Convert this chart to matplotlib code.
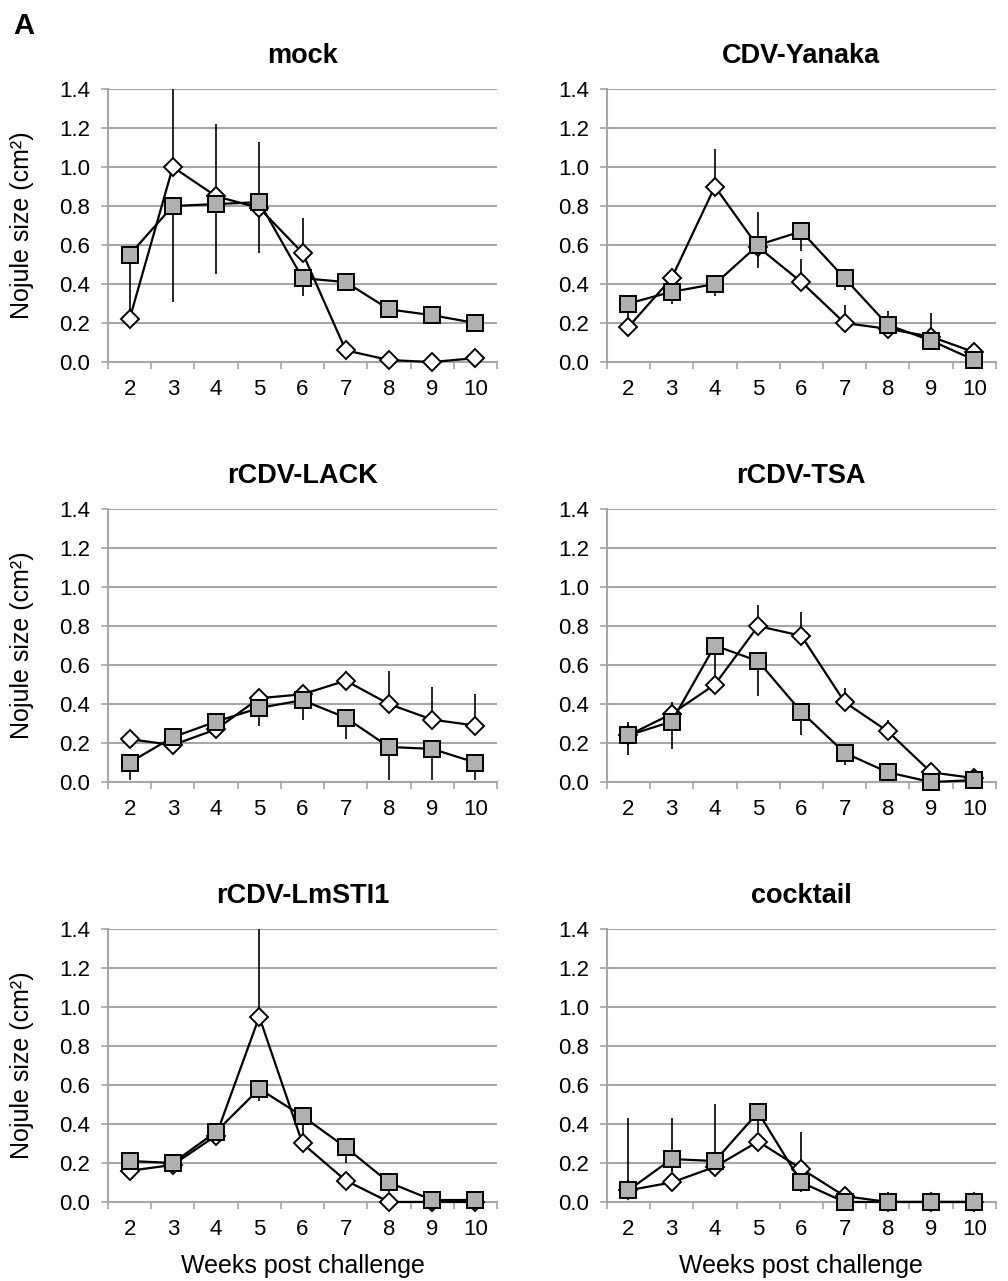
import matplotlib
matplotlib.use('Agg')
import matplotlib.pyplot as plt
import numpy as np

plt.rcParams['font.family'] = ['Liberation Sans', 'DejaVu Sans']

weeks = ['2', '3', '4', '5', '6', '7', '8', '9', '10']
titles = ['mock', 'CDV-Yanaka', 'rCDV-LACK', 'rCDV-TSA', 'rCDV-LmSTI1', 'cocktail']

# open diamonds (error bars go up)
dia_mock = [0.22, 1.00, 0.85, 0.79, 0.56, 0.06, 0.01, 0.00, 0.02]
dia_mock_err = [0.37, 0.50, 0.37, 0.34, 0.18, 0, 0, 0, 0]
dia_yan = [0.18, 0.43, 0.90, 0.59, 0.41, 0.20, 0.17, 0.13, 0.05]
dia_yan_err = [0, 0.05, 0.19, 0.18, 0.12, 0.09, 0.09, 0.12, 0]
dia_lack = [0.22, 0.19, 0.27, 0.43, 0.45, 0.52, 0.40, 0.32, 0.29]
dia_lack_err = [0, 0, 0, 0.03, 0.02, 0.05, 0.17, 0.17, 0.16]
dia_tsa = [0.24, 0.35, 0.50, 0.80, 0.75, 0.41, 0.26, 0.05, 0.02]
dia_tsa_err = [0.07, 0.06, 0, 0.11, 0.12, 0.07, 0.06, 0, 0.01]
dia_sti = [0.16, 0.19, 0.34, 0.95, 0.30, 0.11, 0.00, 0.00, 0.00]
dia_sti_err = [0, 0, 0, 0.50, 0, 0, 0, 0, 0]
dia_cock = [0.06, 0.10, 0.18, 0.31, 0.17, 0.03, 0.00, 0.00, 0.00]
dia_cock_err = [0.37, 0.33, 0.32, 0, 0.19, 0, 0, 0, 0]

# grey squares (error bars go down)
sq_mock = [0.55, 0.80, 0.81, 0.82, 0.43, 0.41, 0.27, 0.24, 0.20]
sq_mock_err = [0, 0.49, 0.36, 0.26, 0.09, 0, 0, 0, 0]
sq_yan = [0.30, 0.36, 0.40, 0.60, 0.67, 0.43, 0.19, 0.11, 0.01]
sq_yan_err = [0.08, 0.06, 0.06, 0.12, 0.10, 0.06, 0, 0, 0]
sq_lack = [0.10, 0.23, 0.31, 0.38, 0.42, 0.33, 0.18, 0.17, 0.10]
sq_lack_err = [0.09, 0, 0, 0.09, 0.10, 0.11, 0.17, 0.16, 0.09]
sq_tsa = [0.24, 0.31, 0.70, 0.62, 0.36, 0.15, 0.05, 0.00, 0.01]
sq_tsa_err = [0.10, 0.14, 0.20, 0.18, 0.12, 0.06, 0, 0, 0]
sq_sti = [0.21, 0.20, 0.36, 0.58, 0.44, 0.28, 0.10, 0.01, 0.01]
sq_sti_err = [0, 0, 0, 0.06, 0.09, 0.08, 0.05, 0, 0]
sq_cock = [0.06, 0.22, 0.21, 0.46, 0.10, 0.00, 0.00, 0.00, 0.00]
sq_cock_err = [0.04, 0.06, 0, 0.10, 0.05, 0, 0, 0, 0]

dia_all = [dia_mock, dia_yan, dia_lack, dia_tsa, dia_sti, dia_cock]
dia_errs = [dia_mock_err, dia_yan_err, dia_lack_err, dia_tsa_err, dia_sti_err, dia_cock_err]
sq_all = [sq_mock, sq_yan, sq_lack, sq_tsa, sq_sti, sq_cock]
sq_errs = [sq_mock_err, sq_yan_err, sq_lack_err, sq_tsa_err, sq_sti_err, sq_cock_err]

fig = plt.figure(figsize=(10.08, 12.81), dpi=100)
fig.text(0.013, 0.991, 'A', fontsize=21, fontweight='bold', va='top', ha='left')

lefts = [0.1071, 0.602]
bottoms = [0.7174, 0.3895, 0.0617]
w, h = 0.386, 0.2131
grid_col = '#a6a6a6'

x = np.arange(1, 10)
for i in range(6):
    r, c = i // 2, i % 2
    ax = fig.add_axes([lefts[c], bottoms[r], w, h])
    z = np.zeros(9)
    ax.errorbar(x, dia_all[i], yerr=[z, dia_errs[i]], fmt='none', ecolor='black', elinewidth=1.2, capsize=0, zorder=2)
    ax.errorbar(x, sq_all[i], yerr=[sq_errs[i], z], fmt='none', ecolor='black', elinewidth=1.2, capsize=0, zorder=2)
    ax.plot(x, dia_all[i], color='black', lw=1.6, marker='D', ms=9.5, mfc='white', mec='black', mew=1.4, zorder=3, clip_on=False)
    ax.plot(x, sq_all[i], color='black', lw=1.6, marker='s', ms=11, mfc='#b0b0b0', mec='black', mew=1.4, zorder=4, clip_on=False)

    ax.set_xlim(0.5, 9.5)
    ax.set_ylim(0, 1.4)
    ax.set_yticks(np.arange(0, 1.41, 0.2))
    ax.set_yticklabels(['%.1f' % v for v in np.arange(0, 1.41, 0.2)])
    ax.set_xticks(x)
    ax.set_xticklabels(weeks)
    ax.set_xticks(np.arange(0.5, 9.6, 1), minor=True)
    ax.tick_params(axis='x', which='major', length=0, labelsize=16, pad=12)
    ax.tick_params(axis='x', which='minor', length=5, width=1.2, color=grid_col)
    ax.tick_params(axis='y', length=5, width=1.2, color=grid_col, labelsize=16, pad=8)
    ax.yaxis.grid(True, color=grid_col, lw=1.5)
    ax.set_axisbelow(True)
    for s in ['top', 'right']:
        ax.spines[s].set_visible(False)
    ax.spines['left'].set_color(grid_col)
    ax.spines['left'].set_linewidth(1.5)
    ax.spines['bottom'].set_color(grid_col)
    ax.spines['bottom'].set_linewidth(1.5)
    ax.set_title(titles[i], fontsize=19.5, fontweight='bold', pad=19)
    if c == 0:
        ax.set_ylabel('Nojule size (cm²)', fontsize=18)
        ax.yaxis.set_label_coords(-0.19, 0.5)
    if r == 2:
        ax.set_xlabel('Weeks post challenge', fontsize=18)
        ax.xaxis.set_label_coords(0.5, -0.19)

plt.savefig('out.png', dpi=100)
